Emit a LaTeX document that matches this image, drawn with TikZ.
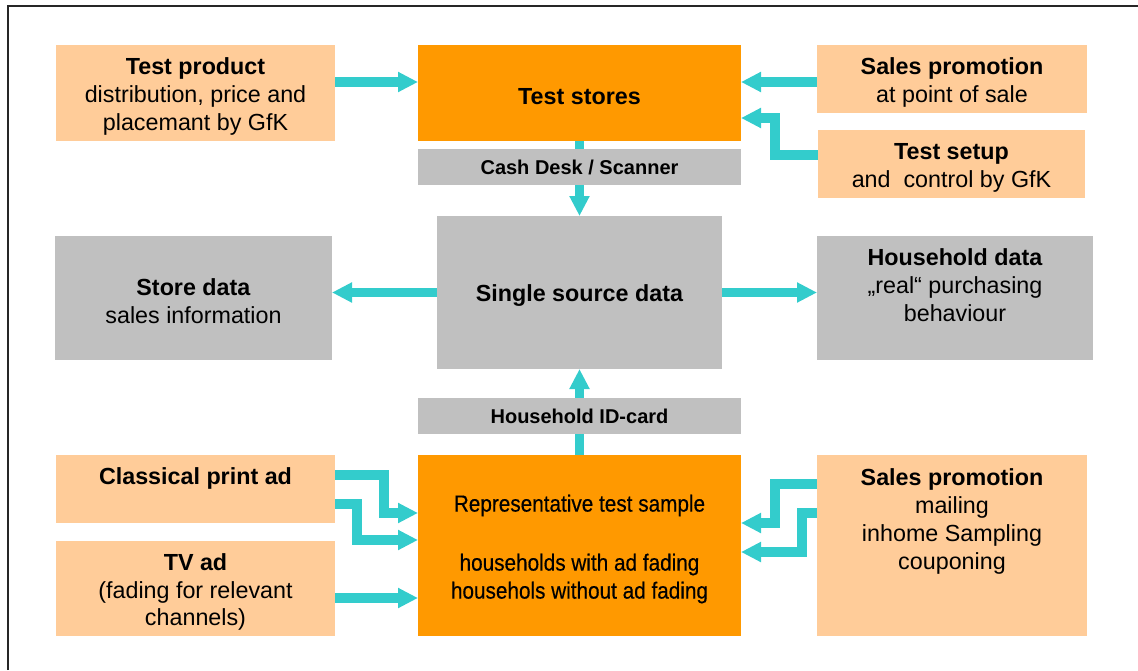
\documentclass[tikz,border=0pt]{standalone}
\usepackage{fontspec}
\setmainfont{Liberation Sans}
\newfontfamily\narrowfont[FakeStretch=0.89,FakeBold=0.4]{Liberation Sans}
\usetikzlibrary{arrows.meta}
\definecolor{paleor}{HTML}{FFCC99}
\definecolor{orng}{HTML}{FF9900}
\definecolor{gry}{HTML}{C0C0C0}
\definecolor{cyn}{HTML}{33CCCC}
\begin{document}
\begin{tikzpicture}[x=1pt,y=-1pt,
  wh/.style 2 args={minimum width=#1pt, minimum height=#2pt},
  box/.style={anchor=north west, inner sep=0pt, outer sep=0pt},
  pale/.style={box, fill=paleor},
  hot/.style={box, fill=orng},
  grey/.style={box, fill=gry},
  small/.style={align=center, text=black, font=\fontsize{20}{24}\selectfont\bfseries},
  txt/.style={anchor=north, inner sep=0pt, align=center,
    font=\fontsize{23.3}{27.8}\selectfont, text=black},
  ctxt/.style={txt, anchor=center, yshift=-3.5pt},
  flow/.style={draw=cyn, line width=9.5pt, line join=miter,
    -{Triangle[length=20pt,width=19pt]}},
  frameline/.style={draw=black!85, line width=1.8pt}
]
\useasboundingbox (0,0) rectangle (1138,670);
\draw[frameline] (8,670) -- (8,6) -- (1138,6);

% boxes
\node[pale, wh={279}{96}] (tp) at (56,45) {};
\node[ctxt] (tpT) at (tp.center)
  {\textbf{Test product}\\distribution, price and\\placemant by GfK};
\node[hot, wh={323}{96}] (ts) at (418,45) {};
\node[ctxt] (tsT) at (ts.center) {\textbf{Test stores}};
\node[pale, wh={270}{68}] (sp1) at (817,45) {};
\node[ctxt] (sp1T) at (sp1.center) {\textbf{Sales promotion}\\at point of sale};
\node[pale, wh={267}{68}] (tsu) at (818,130) {};
\node[ctxt] (tsuT) at (tsu.center) {\textbf{Test setup}\\and\ \ control by GfK};
\node[grey, wh={285}{153}] (ssd) at (437,216) {};
\node[ctxt] (ssdT) at (ssd.center) {\textbf{Single source data}};
\node[grey, wh={277}{124}] (sd) at (55,236) {};
\node[ctxt] (sdT) at (sd.center) {\textbf{Store data}\\sales information};
\node[grey, wh={276}{124}] (hd) at (817,236) {};
\node[txt] (hdT) at ([yshift=-12.5pt]hd.north)
  {\textbf{Household data}\\„real“ purchasing\\behaviour};
\node[hot, wh={323}{181}] (rep) at (418,455) {};
\node[txt, font=\fontsize{23.3}{28}\narrowfont] (repT) at ([yshift=-39.5pt]rep.north)
  {Representative test sample\\[31pt]households with ad fading\\househols without ad fading};
\node[pale, wh={279}{68}] (cpa) at (56,455) {};
\node[txt] (cpaT) at ([yshift=-12.5pt]cpa.north) {\textbf{Classical print ad}};
\node[pale, wh={279}{95}] (tv) at (56,541) {};
\node[ctxt] (tvT) at (tv.center) {\textbf{TV ad}\\(fading for relevant\\channels)};
\node[pale, wh={270}{181}] (sp2) at (817,455) {};
\node[txt, font=\fontsize{23.3}{28.3}\selectfont] (sp2T) at ([yshift=-13pt]sp2.north)
  {\textbf{Sales promotion}\\mailing\\inhome Sampling\\couponing};

% connectors
\draw[flow] ([yshift=11pt]tp.east) -- ([yshift=11pt]tp.east -| ts.west);
\draw[flow] ([yshift=-3pt]sp1.west) -- ([yshift=-3pt]sp1.west -| ts.east);
\draw[flow] ([yshift=9pt]tsu.west) -- ++(-43,0) |- ([yshift=-25pt]ts.east);
\draw[flow] (ts.south) -- (ssd.north);
\draw[flow] (ssd.west) -- (ssd.west -| sd.east);
\draw[flow] (ssd.east) -- (ssd.east -| hd.west);
\draw[flow] (rep.north) -- (ssd.south);
\draw[flow] ([yshift=14pt]cpa.east) -- ++(49,0) |- ([yshift=32.5pt]rep.west);
\draw[flow] ([yshift=-15pt]cpa.east) -- ++(22,0) |- ([yshift=5.5pt]rep.west);
\draw[flow] ([yshift=-9.5pt]tv.east) -- ([yshift=-9.5pt]tv.east -| rep.west);
\draw[flow] ([yshift=61.5pt]sp2.west) -- ++(-42,0) |- ([yshift=22.5pt]rep.east);
\draw[flow] ([yshift=32.5pt]sp2.west) -- ++(-15,0) |- ([yshift=-6.5pt]rep.east);

% label bars over the vertical connectors
\node[grey, small, wh={323}{36}] (cd) at (418,149) {Cash Desk / Scanner};
\node[grey, small, wh={323}{36}] (hid) at (418,398) {Household ID-card};
\end{tikzpicture}
\end{document}
